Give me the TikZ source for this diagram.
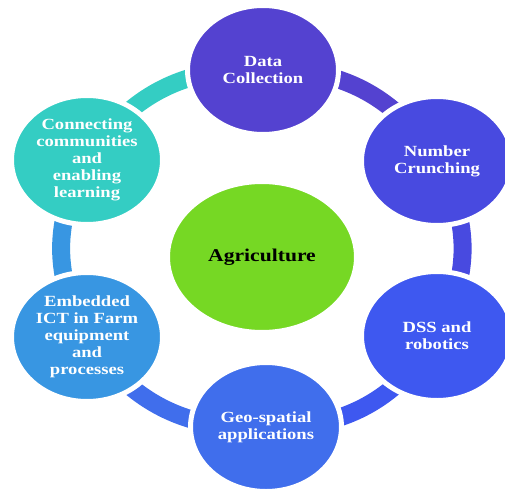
\documentclass[tikz,border=0pt]{standalone}
\usepackage{fontspec}
\setmainfont{Liberation Serif}[FakeStretch=1.2]
\usepackage{tikz}
\usetikzlibrary{shapes.geometric}
\usetikzlibrary{backgrounds}

\definecolor{cData}{RGB}{84,66,208}
\definecolor{cNum}{RGB}{72,74,224}
\definecolor{cDss}{RGB}{62,88,240}
\definecolor{cGeo}{RGB}{64,110,236}
\definecolor{cEmb}{RGB}{56,150,226}
\definecolor{cConn}{RGB}{52,205,195}
\definecolor{cAgri}{RGB}{118,216,36}

\begin{document}
\begin{tikzpicture}[x=1pt, y=1pt,
  item/.style={ellipse, draw=white, line width=5pt, minimum width=151pt, minimum height=129pt,
    inner sep=0pt, align=center, text=white, font=\fontsize{15.5}{17}\selectfont\bfseries},
  band/.style={line width=18pt}]
  \useasboundingbox (0,0) rectangle (505,491);

  \node (iAgri) [item, fill=cAgri, minimum width=189pt, minimum height=151pt, text=black,
    font=\fontsize{18}{20}\selectfont\bfseries] at (262,234) {Agriculture};
  \node (iData) [item, fill=cData] at (263,421) {Data\\Collection};
  \node (iNum) [item, fill=cNum] at (437,330) {Number\\Crunching};
  \node (iDss) [item, fill=cDss] at (437,155) {DSS and\\robotics};
  \node (iGeo) [item, fill=cGeo] at (266,64) {Geo-spatial\\applications};
  \node (iEmb) [item, fill=cEmb] at (87,154) {Embedded\\ICT in Farm\\equipment\\and\\processes};
  \node (iConn) [item, fill=cConn] at (87,331) {Connecting\\communities\\and\\enabling\\learning};

  \begin{scope}[on background layer]
    \draw [band, cConn] (iConn.center) to [bend left=30] (iData.center);
    \draw [band, cData] (iData.center) to [bend left=30] (iNum.center);
    \draw [band, cNum] (iNum.center) to [bend left=30] (iDss.center);
    \draw [band, cDss] (iDss.center) to [bend left=30] (iGeo.center);
    \draw [band, cGeo] (iGeo.center) to [bend left=30] (iEmb.center);
    \draw [band, cEmb] (iEmb.center) to [bend left=30] (iConn.center);
  \end{scope}
\end{tikzpicture}
\end{document}
